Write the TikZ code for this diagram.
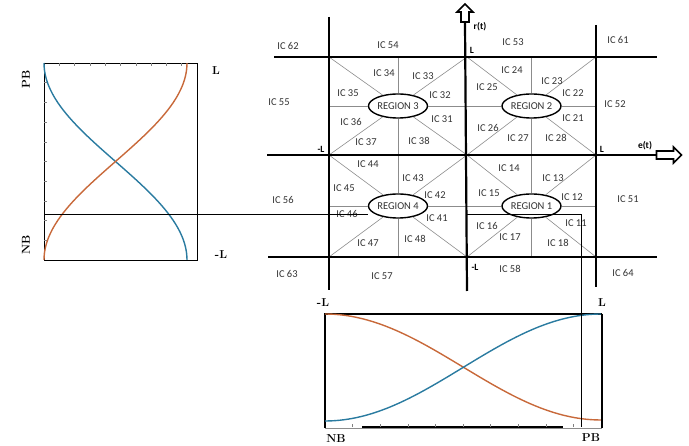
\documentclass[tikz,border=0pt]{standalone}
\usepackage{fontspec}
\usepackage{xcolor}
\usepackage{tikz}
\usetikzlibrary{shapes.arrows, shapes.geometric}
\newfontfamily\icfont{Carlito}
\definecolor{curveblue}{HTML}{2A7BA0}
\definecolor{curveorange}{HTML}{C8693A}

\begin{document}
\begin{tikzpicture}[x=1pt, y=-1pt,
    grid/.style={line width=2.2pt, black},
    fine/.style={line width=0.6pt, black!45},
    thin line/.style={line width=0.7pt, black},
    region/.style={ellipse, draw, line width=1.4pt, minimum width=59pt, minimum height=24pt,
        inner sep=0pt, fill=white, font=\icfont\fontsize{10.5}{12}\selectfont, text=black!80},
    ic/.style={font=\icfont\fontsize{10.5}{12}\selectfont, text=black!80, inner sep=0pt},
    lim/.style={font=\icfont\bfseries\fontsize{9.5}{10}\selectfont, inner sep=0pt},
    mf/.style={font=\bfseries\fontsize{11.5}{12}\selectfont, inner sep=0pt},
    hollow/.style={single arrow, draw, line width=1.6pt, fill=white, inner sep=3.2pt,
        single arrow head extend=4pt, single arrow head indent=0pt},
    plotbox/.style={draw, line width=1pt, inner sep=0pt, anchor=north west},
    mfblue/.style={line width=1.4pt, curveblue},
    mforange/.style={line width=1.4pt, curveorange}]
\useasboundingbox (0,0) rectangle (689,446);

% main grid and axes
\node[hollow, minimum height=25pt] (earrow) at (667,155) {};
\node[hollow, minimum height=18pt, shape border rotate=90] (rarrow) at (465,15) {};
\coordinate (top0) at (274,57);  \coordinate (top1) at (657,57);
\coordinate (bot0) at (268,257); \coordinate (bot1) at (657,257);
\coordinate (eaxis) at (267,155); \coordinate (raxis) at (467,291);
\coordinate (lft0) at (329,17);  \coordinate (lft1) at (329,290);
\coordinate (rgt0) at (596,25);  \coordinate (rgt1) at (596,287);

% regions with their sectors
\foreach \nm/\xa/\xb/\ya/\yb/\num in {r3/329/467/57/155/3, r2/467/596/57/155/2,
        r4/329/467/155/257/4, r1/467/596/155/257/1} {
    \node[region] (\nm) at ({(\xa+\xb)/2},{(\ya+\yb)/2}) {REGION \num};
    \coordinate (\nm-nw) at (\xa,\ya); \coordinate (\nm-ne) at (\xb,\ya);
    \coordinate (\nm-sw) at (\xa,\yb); \coordinate (\nm-se) at (\xb,\yb);
    \coordinate (\nm-n) at ({(\xa+\xb)/2},\ya); \coordinate (\nm-s) at ({(\xa+\xb)/2},\yb);
    \coordinate (\nm-w) at (\xa,{(\ya+\yb)/2}); \coordinate (\nm-e) at (\xb,{(\ya+\yb)/2});
    \draw[fine] (\nm-nw) -- (\nm) (\nm-ne) -- (\nm) (\nm-sw) -- (\nm) (\nm-se) -- (\nm);
    \draw[fine] (\nm-n) -- (\nm.north) (\nm-s) -- (\nm.south)
        (\nm-w) -- (\nm.west) (\nm-e) -- (\nm.east);
}

\draw[grid] (top0) -- (top1);
\draw[grid] (bot0) -- (bot1);
\draw[grid] (lft0) -- (lft1);
\draw[grid] (rgt0) -- (rgt1);
\draw[grid] (eaxis) -- (earrow.tail);
\draw[grid] (raxis) -- (rarrow.tail);

\node[lim] (rlab) at (480,27) {r(t)};
\node[lim] (elab) at (645,146) {e(t)};
\node[lim] (ltop) at (472,50) {L};
\node[lim] (lleft) at (321,149) {-L};
\node[lim] (lright) at (602,149) {L};
\node[lim] (lbot) at (475,267) {-L};

% interval labels
\foreach \n/\x/\y in {62/288/46, 54/388/45, 55/279/102, 34/384/73, 33/423/76, 35/348/93,
        32/440/95, 36/351/122, 31/442/119, 37/366/142, 38/419/141,
        53/513/42, 61/618/40, 24/512/70, 23/552/81, 25/487/87, 22/573/93, 52/615/104,
        21/573/118, 26/488/128, 27/518/138, 28/556/138,
        44/368/164, 43/413/178, 45/344/188, 42/435/195, 56/283/200, 46/347/214,
        41/437/218, 47/368/243, 48/415/239, 63/287/274, 57/382/276,
        14/509/168, 13/553/178, 15/489/193, 12/572/197, 51/628/199, 16/487/226,
        11/576/223, 17/510/237, 18/558/243, 58/510/269, 64/623/273}
    \node[ic] (ic\n) at (\x,\y) {IC \n};

% membership of r(t)
\node[plotbox, minimum width=153pt, minimum height=197pt] (rplot) at (44,63) {};
\foreach \i in {1,...,9} {
    \draw[black!50, line width=0.5pt] ({44+15.3*\i},63) -- ++(0,3);
    \draw[black!50, line width=0.5pt] (44,{63+19.7*\i}) -- ++(3,0);
}
\draw[mfblue] plot[domain=0:1, samples=60, variable=\s] ({44+143*(1-cos(180*\s))/2},{63+197*\s});
\draw[mforange] plot[domain=0:1, samples=60, variable=\s] ({44+143*(1-cos(180*\s))/2},{260-197*\s});
\node[mf, rotate=90] (rpb) at (26,79) {PB};
\node[mf, rotate=90] (rnb) at (26,245) {NB};
\node[mf] (rl) at (216,71) {L};
\node[mf] (rml) at (221,255) {-L};

% membership of e(t)
\node[plotbox, draw=none, minimum width=276pt, minimum height=113pt] (eplot) at (325,314) {};
\draw[line width=1.3pt] (eplot.south west) -- (eplot.north west) -- (eplot.north east);
\draw[line width=1.8pt] (eplot.north east) -- (eplot.south east);
\draw[black!45, line width=0.6pt] (eplot.south west) -- (eplot.south east);
\coordinate (ebar0) at (362,427); \coordinate (ebar1) at (563,427);
\draw[line width=1.3pt] (ebar0) -- (ebar1);
\foreach \i in {1,...,9}
    \draw[black!50, line width=0.5pt] ({325+27.6*\i},427) -- ++(0,-3);
\draw[mforange] plot[domain=0:1, samples=60, variable=\s] ({325+276*\s},{314+106*(1-cos(180*\s))/2});
\draw[mfblue] plot[domain=0:1, samples=60, variable=\s] ({325+276*\s},{421-107*(1-cos(180*\s))/2});
\node[mf] (eml) at (323,303) {-L};
\node[mf] (el) at (602,303) {L};
\node[mf] (enb) at (336,439) {NB};
\node[mf] (epb) at (591,438) {PB};

% operating point
\coordinate (rcut0) at (44,214);
\coordinate (ecut0) at (467,214); \coordinate (ecorner) at (581,214); \coordinate (ecut1) at (581,427);
\draw[thin line] (rcut0) -- (r4.west |- rcut0);
\draw[thin line] (ecut0) -- (ecorner) -- (ecut1);
\end{tikzpicture}
\end{document}
